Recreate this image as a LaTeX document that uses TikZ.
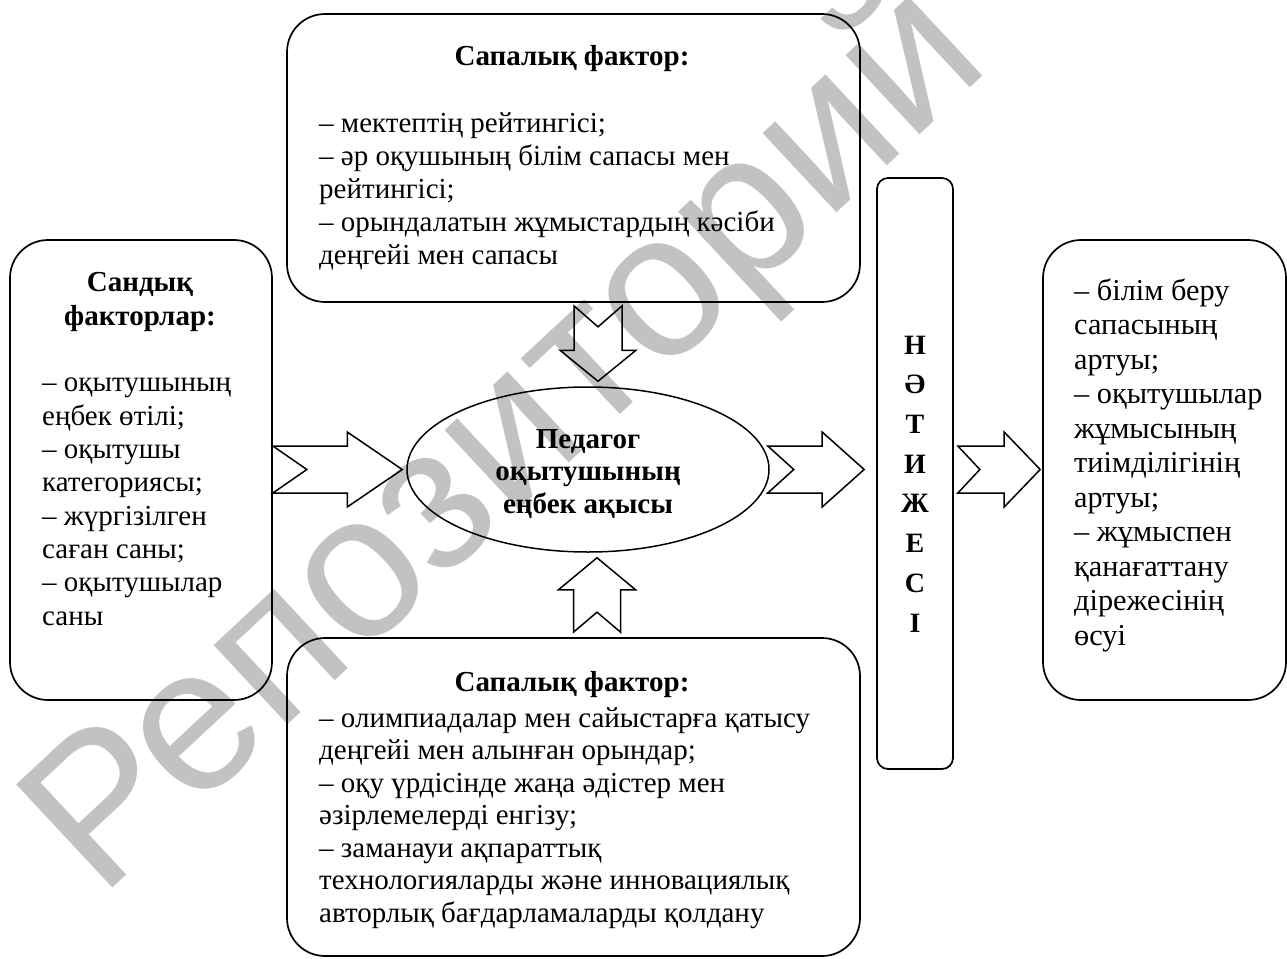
\documentclass[tikz,border=0pt]{standalone}
\usepackage{fontspec}
\setmainfont{Liberation Serif}
\newfontfamily\wmfont{Liberation Sans}
\usetikzlibrary{calc,shapes.geometric}
\tikzset{
  box/.style={draw, line width=1.7pt, rounded corners=38pt, inner sep=0pt},
  vbox/.style={draw, line width=1.7pt, rounded corners=11pt, inner sep=0pt},
  body/.style={inner sep=0pt, align=left, font=\fontsize{29}{33.2}\selectfont},
  head/.style={inner sep=0pt, align=center, font=\fontsize{29}{33.3}\selectfont\bfseries},
  wm/.style={inner sep=0pt, text=black!24, font=\wmfont\fontsize{205}{205}\selectfont},
  notched/.style n args={4}{line width=1.5pt, draw,
    to path={
      ($(\tikztostart)!#1!90:(\tikztotarget)$)
      -- ($(\tikztotarget)!#3!(\tikztostart)!#1!-90:(\tikztostart)$)
      -- ($(\tikztotarget)!#3!(\tikztostart)!#2!-90:(\tikztostart)$)
      -- (\tikztotarget)
      -- ($(\tikztotarget)!#3!(\tikztostart)!#2!90:(\tikztostart)$)
      -- ($(\tikztotarget)!#3!(\tikztostart)!#1!90:(\tikztostart)$)
      -- ($(\tikztostart)!#1!-90:(\tikztotarget)$)
      -- ($(\tikztostart)!#4!(\tikztotarget)$)
      -- cycle}}
}
\begin{document}
\begin{tikzpicture}[x=1pt,y=-1pt]
\useasboundingbox (0,0) rectangle (1287,958);
% watermark
\node[wm, rotate=43, anchor=base west] (wmark) at (100,900) {Репозиторий};

% boxes
\node[box, minimum width=573pt, minimum height=288pt] (top) at (573.5,158) {};
\node[box, minimum width=262pt, minimum height=460pt] (lbox) at (141,470) {};
\node[box, minimum width=573pt, minimum height=318pt] (bot) at (573.5,797) {};
\node[box, minimum width=243pt, minimum height=460pt] (rbox) at (1164.5,470) {};
\node[vbox, minimum width=76pt, minimum height=591pt] (res) at (915,473.5) {};
\node[draw, ellipse, line width=1.5pt, inner sep=0pt, minimum width=362pt, minimum height=165pt] (ell) at (588,469.5) {};

% texts (multi-line nodes are anchored at the baseline of their last line)
\node[head, anchor=base] (toptitle) at (572,66) {Сапалық фактор:};
\node[body, anchor=base west] (toptext) at (319,264.8) {– мектептің рейтингісі;\\
– әр оқушының білім сапасы мен\\
рейтингісі;\\
– орындалатын жұмыстардың кәсіби\\
деңгейі мен сапасы};

\node[head, anchor=base] (ltitle) at (140,325) {Сандық\\факторлар:};
\node[body, anchor=base west, font=\fontsize{29}{33.3}\selectfont] (ltext) at (42,625) {– оқытушының\\
еңбек өтілі;\\
– оқытушы\\
категориясы;\\
– жүргізілген\\
саған саны;\\
– оқытушылар\\
саны};

\node[head, anchor=base, font=\fontsize{29}{32.5}\selectfont\bfseries] (elltext) at (588,513) {Педагог\\оқытушының\\еңбек ақысы};

\node[head, anchor=base, font=\fontsize{28}{39.7}\selectfont\bfseries] (restext) at (915,632) {Н\\Ә\\Т\\И\\Ж\\Е\\С\\І};

\node[body, anchor=base west, font=\fontsize{30.3}{34.5}\selectfont] (rtext) at (1074,645) {– білім беру\\
сапасының\\
артуы;\\
– оқытушылар\\
жұмысының\\
тиімділігінің\\
артуы;\\
– жұмыспен\\
қанағаттану\\
дірежесінің\\
өсуі};

\node[head, anchor=base] (bottitle) at (572,691) {Сапалық фактор:};
\node[body, anchor=base west, font=\fontsize{29}{32.5}\selectfont] (bottext) at (319,922) {– олимпиадалар мен сайыстарға қатысу\\
деңгейі мен алынған орындар;\\
– оқу үрдісінде жаңа әдістер мен\\
әзірлемелерді енгізу;\\
– заманауи ақпараттық\\
технологияларды және инновациялық\\
авторлық бағдарламаларды қолдану};

% arrow end points
\coordinate (a1s) at (lbox.east |- ell.west);
\coordinate (a1t) at ($(ell.west)+(-4,0)$);
\coordinate (a2s) at ($(ell.east)+(-2,0)$);
\coordinate (a2t) at ($(res.west |- ell.east)+(-12,0)$);
\coordinate (a3s) at ($(res.east |- ell.east)+(4,0)$);
\coordinate (a3t) at ($(rbox.west |- ell.east)+(-2,0)$);
\coordinate (a4s) at ($(top.south)+(24.5,3)$);
\coordinate (a4t) at ($(ell.north)+(10,-5)$);
\coordinate (a5s) at ($(bot.north)+(23.5,-5)$);
\coordinate (a5t) at ($(ell.south)+(9,5)$);

\draw[notched={23.5pt}{37.5pt}{55pt}{34pt}] (a1s) to (a1t);
\draw[notched={23.5pt}{37.5pt}{42pt}{26pt}] (a2s) to (a2t);
\draw[notched={23.5pt}{37.5pt}{36pt}{22pt}] (a3s) to (a3t);
\draw[notched={24pt}{38pt}{31pt}{21pt}] (a4s) to (a4t);
\draw[notched={23.5pt}{38.5pt}{32pt}{20pt}] (a5s) to (a5t);
\end{tikzpicture}
\end{document}
